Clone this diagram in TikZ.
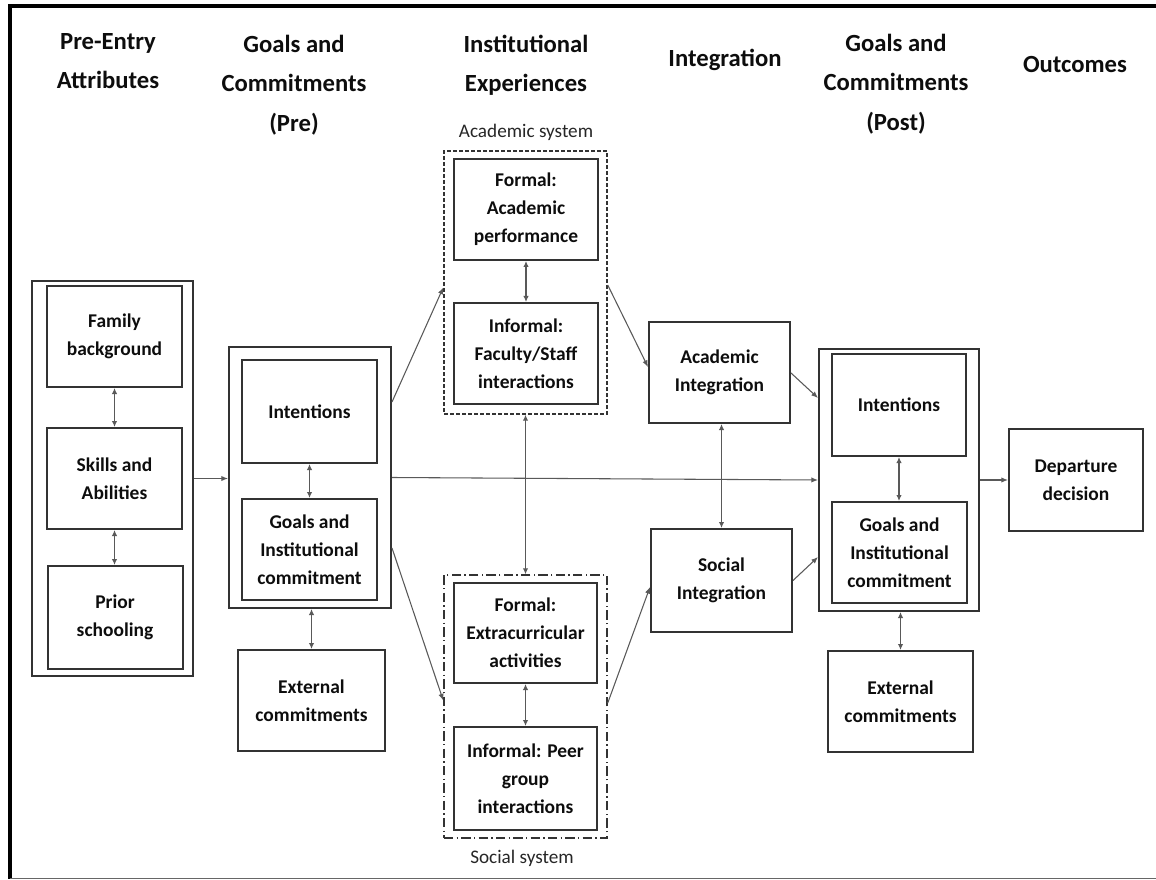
\documentclass[tikz,border=0pt]{standalone}
\usepackage{fontspec}
\setmainfont{Carlito}
\usetikzlibrary{arrows.meta,calc}
\tikzset{
  bx/.style={draw=black!80, line width=1.5pt, align=center, inner sep=0pt,
    font=\bfseries\fontsize{14.6}{21}\selectfont, text=black!95},
  sz/.style 2 args={minimum width=#1*0.75pt, minimum height=#2*0.75pt},
  acbox/.style={draw=black!80, line width=1.1pt, dash pattern=on 3pt off 1.5pt, inner sep=0pt},
  socbox/.style={draw=black!80, line width=1.1pt, dash pattern=on 7pt off 2.5pt on 1pt off 2.5pt, inner sep=0pt},
  hd/.style={align=center, inner sep=0pt, font=\bfseries\fontsize{18.5}{29.5}\selectfont, text=black!95},
  lbl/.style={inner sep=0pt, font=\fontsize{14.4}{18}\selectfont, text=black!85},
  cn/.style={draw=black!65, line width=0.8pt, -{Latex[length=5pt,width=4pt]}},
  dcn/.style={draw=black!65, line width=0.8pt, {Latex[length=4.5pt,width=4pt]}-{Latex[length=4.5pt,width=4pt]}},
}
\begin{document}
\begin{tikzpicture}[x=0.75pt,y=-0.75pt]
\useasboundingbox (0,0) rectangle (1156,880);
% frame
\draw[line width=3pt, black] (8,6.5) -- (1156,6.5);
\draw[line width=3pt, black] (9.5,4.5) -- (9.5,879);
\draw[line width=1.2pt, black!60] (9.5,878.3) -- (1156,878.3);

% headers
\node[hd] (h1) at (108,61) {Pre-Entry\\Attributes};
\node[hd] (h2) at (294,85) {Goals and\\Commitments\\(Pre)};
\node[hd] (h3) at (526,65) {Institutional\\Experiences};
\node[hd] (h4) at (725,60) {Integration};
\node[hd] (h5) at (896,84) {Goals and\\Commitments\\(Post)};
\node[hd] (h6) at (1075,65) {Outcomes};

% pre-entry
\node[bx, sz={161}{395}] (pre) at (112.5,478.5) {};
\node[bx, sz={135}{101}] (fam) at (114.5,336.5) {Family\\background};
\node[bx, sz={135}{101}] (skl) at (114.5,478.5) {Skills and\\Abilities};
\node[bx, sz={135}{103}] (pri) at (115,617.5) {Prior\\schooling};

% goals pre
\node[bx, sz={162}{261}] (gpre) at (310,477.5) {};
\node[bx, sz={135}{103}] (int1) at (309.5,411.5) {Intentions};
\node[bx, sz={135}{101}] (gic1) at (309.5,549.5) {Goals and\\Institutional\\commitment};
\node[bx, sz={147}{101}] (ext1) at (311.5,700.5) {External\\commitments};

% institutional experiences
\node[acbox, sz={163}{263}] (asys) at (525.5,282.5) {};
\node[lbl] (acl) at (526,132) {Academic system};
\node[bx, sz={144}{101}] (fap) at (526,209.5) {Formal:\\Academic\\performance};
\node[bx, sz={144}{101}] (ifs) at (526,353.5) {Informal:\\Faculty/Staff\\interactions};
\node[socbox, sz={163}{263}] (ssys) at (525.5,706.5) {};
\node[lbl] (scl) at (522,858) {Social system};
\node[bx, sz={143}{100}] (fea) at (525.5,633) {Formal:\\Extracurricular\\activities};
\node[bx, sz={143}{103}] (ipg) at (525.5,778.5) {Informal: Peer\\group\\interactions};

% integration
\node[bx, sz={141}{101}] (ai) at (719.5,372.5) {Academic\\Integration};
\node[bx, sz={141}{103}] (si) at (721.5,580.5) {Social\\Integration};

% goals post
\node[bx, sz={160}{262}] (gpost) at (899,480) {};
\node[bx, sz={134}{102}] (int2) at (899,405) {Intentions};
\node[bx, sz={135}{101}] (gic2) at (899.5,552.5) {Goals and\\Institutional\\commitment};
\node[bx, sz={145}{101}] (ext2) at (900.5,701.5) {External\\commitments};

% outcomes
\node[bx, sz={134}{102}] (dep) at (1076,480) {Departure\\decision};

% connectors
\draw[dcn] (fam.south) -- (skl.north);
\draw[dcn] (skl.south) -- (skl.south |- pri.north);
\draw[cn] (pre.east) -- (pre.east -| gpre.west);
\draw[dcn] (int1.south) -- (gic1.north);
\draw[dcn] (ext1.north |- gpre.south) -- (ext1.north);
\draw[cn] ($(gpre.east)+(0,-75.5)$) -- ($(asys.west)+(0,5)$);
\draw[cn] ($(gpre.east)+(0,70.5)$) -- ($(ssys.west)+(0,-6)$);
\draw[dcn] (fap.south) -- (ifs.north);
\draw[dcn] (fea.south) -- (ipg.north);
\draw[dcn] (asys.south) -- (ssys.north);
\draw[cn] ($(asys.east)+(0,2.5)$) -- ($(ai.west)+(0,-5.5)$);
\draw[cn] ($(ssys.east)+(0,-3.5)$) -- ($(si.west)+(0,6.5)$);
\draw[dcn] (si.north |- ai.south) -- (si.north);
\draw[cn] (gpre.east) -- (gpost.west);
\draw[cn] ($(ai.east)+(0,0.5)$) -- ($(gpost.west)+(0,-82)$);
\draw[cn] (si.east) -- ($(gpost.west)+(0,77)$);
\draw[dcn] (int2.south) -- (int2.south |- gic2.north);
\draw[dcn] (ext2.north |- gpost.south) -- (ext2.north);
\draw[cn] (gpost.east) -- (dep.west);
\end{tikzpicture}
\end{document}
